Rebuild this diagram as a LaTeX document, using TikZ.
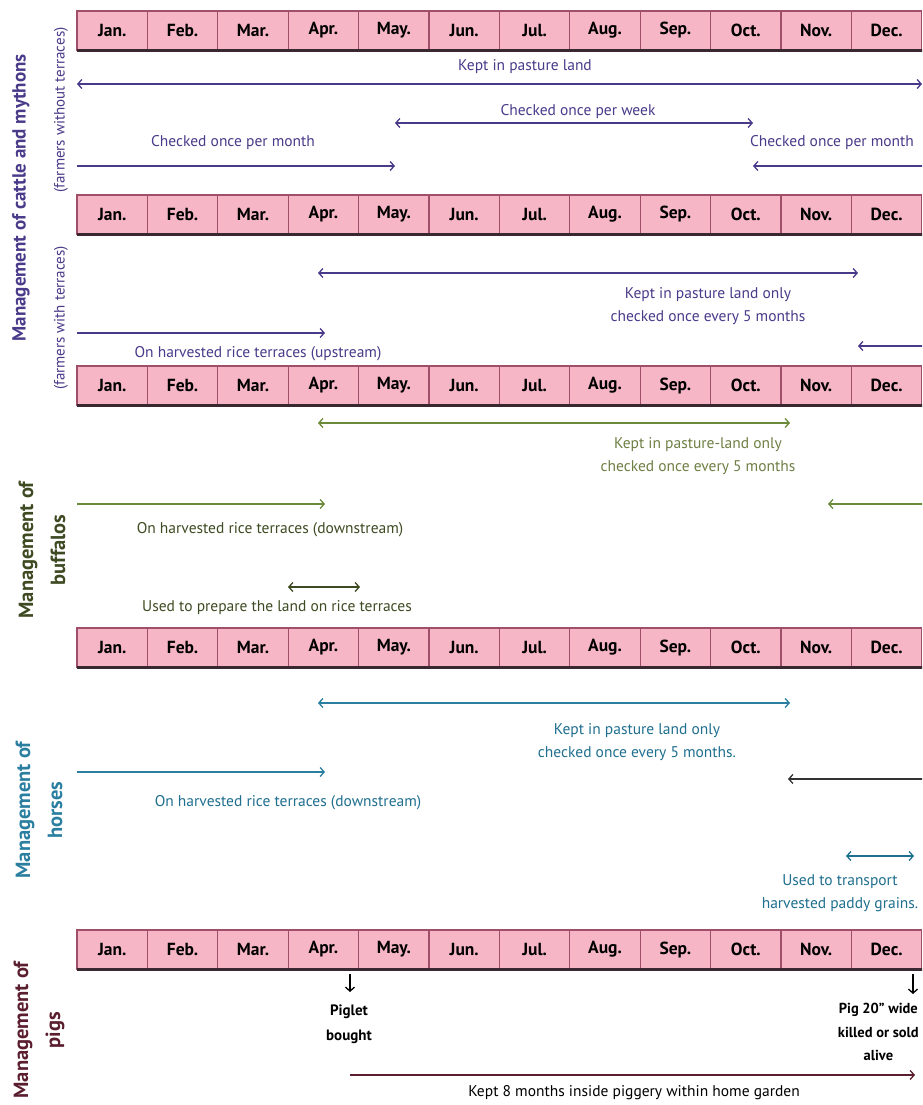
\documentclass[tikz,border=0pt]{standalone}
\usepackage{fontspec}
\setmainfont{PT Sans}
\usetikzlibrary{arrows.meta}
\definecolor{pinkfill}{HTML}{F6B6C6}
\definecolor{pinkedge}{HTML}{A04F6B}
\definecolor{barbase}{HTML}{3A2830}
\definecolor{cattle}{HTML}{4A3A8A}
\definecolor{buff}{HTML}{6B8A3A}
\definecolor{bufftext}{HTML}{3E4A22}
\definecolor{bufflight}{HTML}{6E7F45}
\definecolor{horse}{HTML}{2A7FA0}
\definecolor{horsetext}{HTML}{1F6F8F}
\definecolor{pig}{HTML}{5A1E2E}
\tikzset{
  >={Straight Barb[length=4pt,width=9pt,line width=1.3pt]},
  monthcell/.style={draw=pinkedge, line width=1.1pt, fill=pinkfill, minimum width=70.4pt, minimum height=39pt, inner sep=0pt, font=\bfseries\fontsize{17.5}{17.5}\selectfont, text=black},
  span/.style={line width=2pt},
  lab/.style={inner sep=1pt, font=\fontsize{15.5}{23}\selectfont, align=center},
  sidebig/.style={rotate=90, inner sep=0pt, font=\bfseries\fontsize{20.5}{32}\selectfont, align=center},
  sidesmall/.style={rotate=90, inner sep=0pt, font=\fontsize{15}{16}\selectfont},
}
\newcommand{\monthbar}[2]{%
  \foreach \m [count=\i] in {Jan.,Feb.,Mar.,Apr.,May.,Jun.,Jul.,Aug.,Sep.,Oct.,Nov.,Dec.}{
    \node[monthcell] (#1m\i) at ({77+70.4*(\i-0.5)},{#2+19.5}) {\m};
  }
  \draw[barbase, line width=2.6pt] (77,{#2+39.5}) -- (925,{#2+39.5});
}
\begin{document}
\begin{tikzpicture}[x=1pt,y=-1pt]
\useasboundingbox (0,0) rectangle (922,1105);
\clip (0,0) rectangle (922,1105);
\fill[white] (0,0) rectangle (922,1105);

% month bars
\monthbar{ra}{11}
\monthbar{rb}{195}
\monthbar{rc}{366}
\monthbar{rd}{628}
\monthbar{re}{930}

% ---------- cattle and mithons ----------
\node[sidebig, text=cattle, font=\bfseries\fontsize{19}{20}\selectfont] (lcat) at (21,198) {Management of cattle and mythons};
\node[sidesmall, text=cattle] (lcat1) at (61,110) {(farmers without terraces)};
\node[sidesmall, text=cattle] (lcat2) at (61,318) {(farmers with terraces)};

\coordinate (a1s) at (77,84); \coordinate (a1e) at (922,84);
\draw[span, cattle, <->] (a1s) -- (a1e);
\node[lab, text=cattle] (t1) at (525,67) {Kept in pasture land};

\coordinate (a2s) at (395,123); \coordinate (a2e) at (753,123);
\draw[span, cattle, <->] (a2s) -- (a2e);
\node[lab, text=cattle] (t2) at (578,112) {Checked once per week};

\coordinate (a3s) at (77,166); \coordinate (a3e) at (395,166);
\draw[span, cattle, ->] (a3s) -- (a3e);
\node[lab, text=cattle] (t3) at (233,143) {Checked once per month};

\coordinate (a4s) at (926,166); \coordinate (a4e) at (753,166);
\draw[span, cattle, ->] (a4s) -- (a4e);
\node[lab, text=cattle] (t4) at (832,143) {Checked once per month};

\coordinate (a5s) at (318,273); \coordinate (a5e) at (858,273);
\draw[span, cattle, <->] (a5s) -- (a5e);
\node[lab, text=cattle] (t5) at (708,306) {Kept in pasture land only\\checked once every 5 months};

\coordinate (a6s) at (77,333); \coordinate (a6e) at (325,333);
\draw[span, cattle, ->] (a6s) -- (a6e);
\node[lab, text=cattle] (t6) at (258,354) {On harvested rice terraces (upstream)};

\coordinate (a7s) at (926,346); \coordinate (a7e) at (858,346);
\draw[span, cattle, ->] (a7s) -- (a7e);

% ---------- buffalos ----------
\node[sidebig, text=bufftext] (lbuf) at (42,550) {Management of\\buffalos};

\coordinate (b1s) at (318,423); \coordinate (b1e) at (790,423);
\draw[span, buff, <->] (b1s) -- (b1e);
\node[lab, text=bufflight] (u1) at (698,456) {Kept in pasture-land only\\checked once every 5 months};

\coordinate (b2s) at (77,504); \coordinate (b2e) at (325,504);
\draw[span, buff, ->] (b2s) -- (b2e);
\node[lab, text=bufftext] (u2) at (270,530) {On harvested rice terraces (downstream)};

\coordinate (b3s) at (926,504); \coordinate (b3e) at (828,504);
\draw[span, buff, ->] (b3s) -- (b3e);

\coordinate (b4s) at (288,587); \coordinate (b4e) at (360,587);
\draw[span, bufftext, <->] (b4s) -- (b4e);
\node[lab, text=bufftext] (u3) at (277,608) {Used to prepare the land on rice terraces};

% ---------- horses ----------
\node[sidebig, text=horse] (lhor) at (39,810) {Management of\\horses};

\coordinate (h1s) at (318,703); \coordinate (h1e) at (790,703);
\draw[span, horse, <->] (h1s) -- (h1e);
\node[lab, text=horsetext] (v1) at (637,742) {Kept in pasture land only\\checked once every 5 months.};

\coordinate (h2s) at (77,772); \coordinate (h2e) at (325,772);
\draw[span, horse, ->] (h2s) -- (h2e);
\node[lab, text=horsetext] (v2) at (288,803) {On harvested rice terraces (downstream)};

\coordinate (h3s) at (926,779); \coordinate (h3e) at (788,779);
\draw[span, black!80, ->] (h3s) -- (h3e);

\coordinate (h4s) at (846,856); \coordinate (h4e) at (914,856);
\draw[span, horsetext, <->] (h4s) -- (h4e);
\node[lab, text=horsetext] (v3) at (840,893) {Used to transport\\harvested paddy grains.};

% ---------- pigs ----------
\node[sidebig, text=pig] (lpig) at (39,1030) {Management of\\pigs};

\coordinate (p1s) at (350,974); \coordinate (p1e) at (350,992);
\draw[line width=1.3pt, black, ->] (p1s) -- (p1e);
\node[lab, text=black, font=\bfseries\fontsize{15}{25}\selectfont] (w1) at (349,1024) {Piglet\\bought};

\coordinate (p2s) at (913,974); \coordinate (p2e) at (913,994);
\draw[line width=1.3pt, black, ->] (p2s) -- (p2e);
\node[lab, text=black, font=\bfseries\fontsize{14.5}{23.5}\selectfont, anchor=east] (w2) at (920,1032) {Pig 20" wide\\killed or sold\\alive};

\coordinate (p3s) at (350,1075); \coordinate (p3e) at (915,1075);
\draw[line width=1.6pt, pig, ->] (p3s) -- (p3e);
\node[lab, text=black] (w3) at (634,1093) {Kept 8 months inside piggery within home garden};
\end{tikzpicture}
\end{document}
